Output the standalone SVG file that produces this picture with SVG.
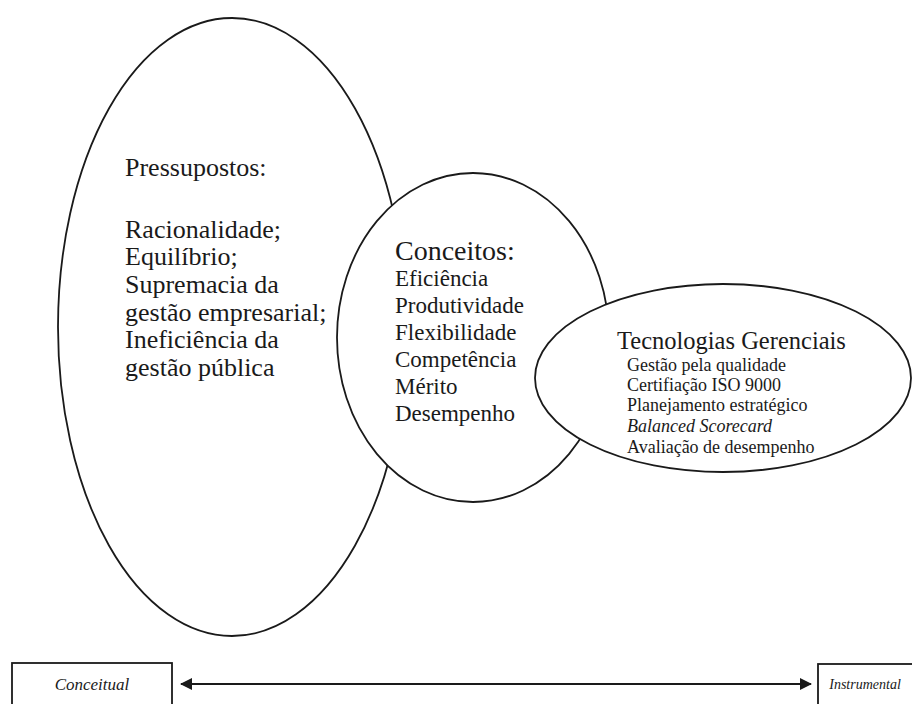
<svg xmlns="http://www.w3.org/2000/svg" width="912" height="704" viewBox="0 0 912 704">
<style>
.shape{fill:#fff;stroke:#1a1a1a;stroke-width:1.8}
.big{font-size:26px}
.mh{font-size:28px}
.mi{font-size:23px}
.sh{font-size:24.5px}
.si{font-size:18px}
.bx{font-size:17px;font-style:italic}
.bx2{font-size:14px;font-style:italic}
</style>
<defs>
<marker id="ah" viewBox="0 0 12 12" refX="11" refY="6" markerWidth="12" markerHeight="12" markerUnits="userSpaceOnUse" orient="auto-start-reverse">
<path d="M0,0 L12,6 L0,12 Z" fill="#1a1a1a"/>
</marker>
</defs>
<rect width="912" height="704" fill="#fff"/>
<g font-family="Liberation Serif, Tinos, Times New Roman, DejaVu Serif, serif" fill="#1a1a1a">
<g id="pressupostos">
<ellipse class="shape" cx="232" cy="327" rx="174" ry="309"/>
<text class="big" x="125" y="176">Pressupostos:</text>
<text class="big" x="125" y="238">Racionalidade;</text>
<text class="big" x="125" y="265">Equilíbrio;</text>
<text class="big" x="125" y="293">Supremacia da</text>
<text class="big" x="125" y="321">gestão empresarial;</text>
<text class="big" x="125" y="348">Ineficiência da</text>
<text class="big" x="125" y="376">gestão pública</text>
</g>
<g id="conceitos">
<ellipse class="shape" cx="473" cy="337.5" rx="136" ry="164.5"/>
<text class="mh" x="395" y="260">Conceitos:</text>
<text class="mi" x="395" y="286">Eficiência</text>
<text class="mi" x="395" y="313">Produtividade</text>
<text class="mi" x="395" y="340">Flexibilidade</text>
<text class="mi" x="395" y="367">Competência</text>
<text class="mi" x="395" y="394">Mérito</text>
<text class="mi" x="395" y="421">Desempenho</text>
</g>
<g id="tecnologias">
<ellipse class="shape" cx="723" cy="378" rx="188" ry="94"/>
<text class="sh" x="617" y="349">Tecnologias Gerenciais</text>
<text class="si" x="627" y="371">Gestão pela qualidade</text>
<text class="si" x="627" y="391">Certifiação ISO 9000</text>
<text class="si" x="627" y="411">Planejamento estratégico</text>
<text class="si" x="627" y="432" font-style="italic">Balanced Scorecard</text>
<text class="si" x="627" y="453">Avaliação de desempenho</text>
</g>
<g id="conceitual">
<rect class="shape" x="12" y="663" width="160" height="50"/>
<text class="bx" x="92" y="690" text-anchor="middle">Conceitual</text>
</g>
<g id="instrumental">
<rect class="shape" x="818" y="664" width="110" height="50"/>
<text class="bx2" x="865" y="689" text-anchor="middle">Instrumental</text>
</g>
</g>
<g id="connectors">
<line x1="181" y1="684" x2="811" y2="684" stroke="#1a1a1a" stroke-width="2.2" marker-start="url(#ah)" marker-end="url(#ah)"/>
</g>
</svg>
